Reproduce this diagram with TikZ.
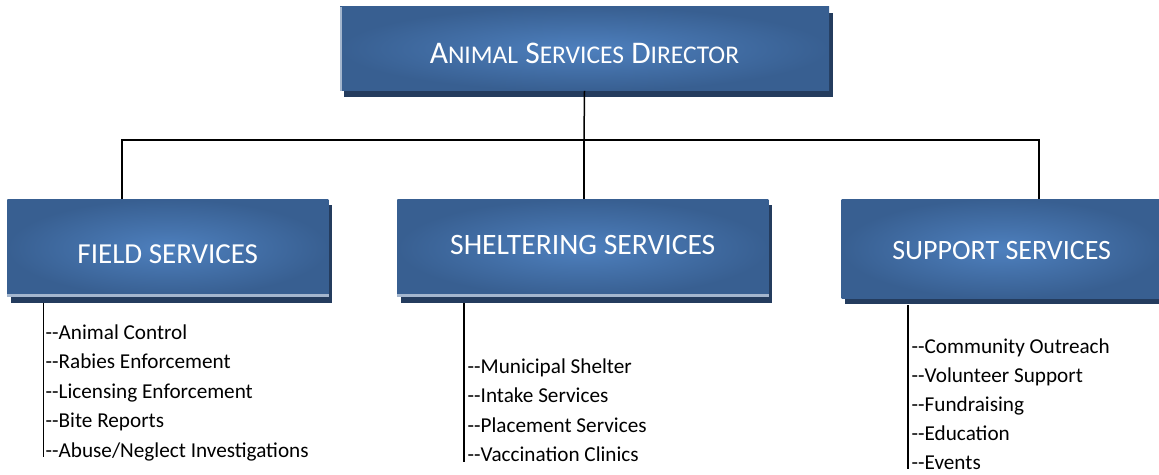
\documentclass[tikz,border=0pt]{standalone}
\usepackage{fontspec}
\setmainfont{Carlito}
\usetikzlibrary{positioning,shadows}

\definecolor{boxedge}{RGB}{56,95,145}
\definecolor{boxmid}{RGB}{78,128,190}
\definecolor{boxshadow}{RGB}{36,60,94}
\definecolor{boxlight}{RGB}{164,182,206}

% fake small caps, the way the title is set
\newcommand{\smallcap}[1]{{\fontsize{25.5}{25.5}\selectfont #1}}

\begin{document}
\begin{tikzpicture}[
  x=1pt, y=-1pt,
  box/.style={rectangle, inner sep=0pt, inner color=boxmid, outer color=boxedge,
              drop shadow={shadow xshift=3.5pt, shadow yshift=-6pt,
                            fill=boxshadow, opacity=1}},
  title/.style={text=white, font=\fontsize{29}{29}\selectfont},
  item/.style={anchor=base west, inner sep=0pt, font=\fontsize{21.2}{21.2}\selectfont},
  link/.style={line width=1.5pt},
  edge/.style={boxlight, line width=2.5pt}
]
  \useasboundingbox (0,0) rectangle (1159,474);

  % boxes
  \node[box, minimum width=489pt, minimum height=84pt] (dir) at (584.5,48.7)
    {};
  \node[title, font=\fontsize{31.5}{31.5}\selectfont] at ([yshift=-4.3pt]dir.center)
    {A\smallcap{NIMAL} S\smallcap{ERVICES} D\smallcap{IRECTOR}};
  \draw[edge, line width=2pt] ([xshift=1pt]dir.south west) -- ([xshift=1pt]dir.north west);

  \node[box, minimum width=321pt, minimum height=97.4pt] (field) at (167.8,248)
    {};
  \node[title] at ([yshift=-5.8pt]field.center) {FIELD SERVICES};
  \draw[edge] ([yshift=1.2pt]field.south west) -- ([yshift=1.2pt]field.south east);

  \node[box, minimum width=371pt, minimum height=97.4pt] (shelter) at (582.8,248)
    {};
  \node[title, font=\fontsize{29.6}{29.6}\selectfont] at ([yshift=2.7pt]shelter.center)
    {SHELTERING SERVICES};
  \draw[edge] ([yshift=1.2pt]shelter.south west) -- ([yshift=1.2pt]shelter.south east);

  \node[box, minimum width=320pt, minimum height=99.3pt] (support) at (1001.7,248.7)
    {};
  \node[title, font=\fontsize{28}{28}\selectfont] at ([yshift=-1.8pt]support.center)
    {SUPPORT SERVICES};

  % tree lines
  \coordinate (hub) at (584,140);
  \draw[link] (dir.south) -- (hub);
  \draw[link] ([xshift=-45.8pt]field.north) |- (hub) -| ([xshift=37.3pt]support.north);
  \draw[link] (hub) -- (shelter.north -| hub);

  % lists
  \foreach \txt [count=\i] in {Animal Control, Rabies Enforcement,
      Licensing Enforcement, Bite Reports, Abuse/Neglect Investigations}
    \node[item] (f\i) at (45.5,{339.3+29.5*(\i-1)}) {-{}-\txt};
  \foreach \txt [count=\i] in {Municipal Shelter, Intake Services,
      Placement Services, Vaccination Clinics}
    \node[item] (s\i) at (467.5,{373+29.6*(\i-1)}) {-{}-\txt};
  \foreach \txt [count=\i] in {Community Outreach, Volunteer Support,
      Fundraising, Education, Events}
    \node[item] (u\i) at (911.5,{353.3+29*(\i-1)}) {-{}-\txt};

  \draw[link] ([xshift=-1.8pt, yshift=-6pt]field.south -| f1.west) -- ([xshift=-1.8pt]f5.base west);
  \draw[link] ([xshift=-3.5pt, yshift=-6pt]shelter.south -| s1.west) -- ([xshift=-3.5pt]s4.base west);
  \draw[link] ([xshift=-3.5pt, yshift=-6.5pt]support.south -| u1.west) -- ([xshift=-3.5pt]u5.base west);
\end{tikzpicture}
\end{document}
